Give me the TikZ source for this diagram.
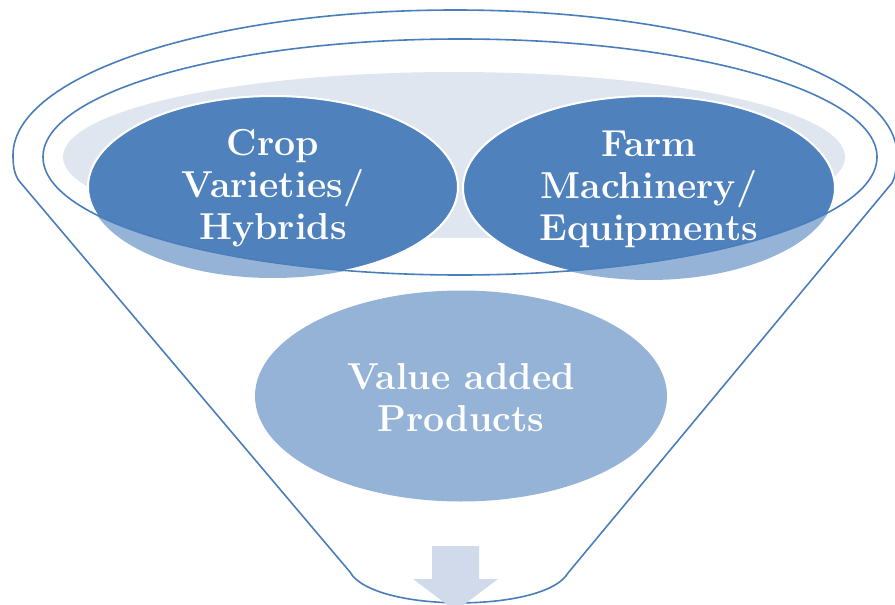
\documentclass[tikz,border=0pt]{standalone}
\usepackage{fontspec}
\usetikzlibrary{shapes.geometric}
\definecolor{acc}{HTML}{4F81BD}
\definecolor{rimline}{HTML}{4A7EBB}
\definecolor{valc}{HTML}{95B3D7}
\definecolor{grayc}{HTML}{E0E6F0}
\definecolor{arrc}{HTML}{D0DAEA}
\tikzset{
  blueell/.style={ellipse, fill=acc, draw=white, line width=2pt, inner sep=0pt},
  lbl/.style={text=white, font=\fontsize{37.5}{42}\selectfont\bfseries, align=center, inner sep=0pt},
  fun/.style={draw=rimline, line width=1.6pt},
}
\begin{document}
\begin{tikzpicture}[x=1pt,y=-1pt]
\useasboundingbox (0,0) rectangle (895,605);
\clip (0,0) rectangle (895,605);
% grey liquid
\begin{scope}
  \clip (0,0) rectangle (895,237);
  \fill[grayc] (454,157) ellipse [x radius=391, y radius=85];
\end{scope}
% translucent lower parts of the rim ellipses
\begin{scope}[fill opacity=0.6]
  \fill[acc] (273,187) ellipse [x radius=185, y radius=91];
  \fill[acc] (649,188) ellipse [x radius=186, y radius=92];
\end{scope}
% opaque parts inside the rim
\begin{scope}
  \clip (460,157) ellipse [x radius=417, y radius=118];
  \node[blueell, minimum width=370pt, minimum height=182pt] (crop) at (273,187) {};
  \node[blueell, minimum width=372pt, minimum height=184pt] (farm) at (649,188) {};
\end{scope}
% rim
\draw[fun] (460,157) ellipse [x radius=417, y radius=118];
% funnel outline
\draw[fun] (350,572) -- (20,182) .. controls (14,175) and (13,165) .. (13,155)
  arc[start angle=180, end angle=360, x radius=442, y radius=145]
  .. controls (897,165) and (896,175) .. (892,183) -- (568,573)
  .. controls (545,613) and (373,613) .. (350,572);
% value added
\node[ellipse, fill=valc, inner sep=0pt, minimum width=412pt, minimum height=211pt] (value) at (461,396) {};
% arrow
\fill[arrc] (432,546) -- (479,546) -- (479,579) -- (498,579) -- (455.5,611) -- (413,579) -- (432,579) -- cycle;
% labels
\node[lbl] (croptxt) at ([yshift=-1pt]crop.center) {Crop\\Varieties/\\Hybrids};
\node[lbl] (farmtxt) at ([yshift=-1pt]farm.center) {Farm\\Machinery/\\Equipments};
\node[lbl] (valtxt) at ([yshift=-2pt]value.center) {Value added\\Products};
\end{tikzpicture}
\end{document}
